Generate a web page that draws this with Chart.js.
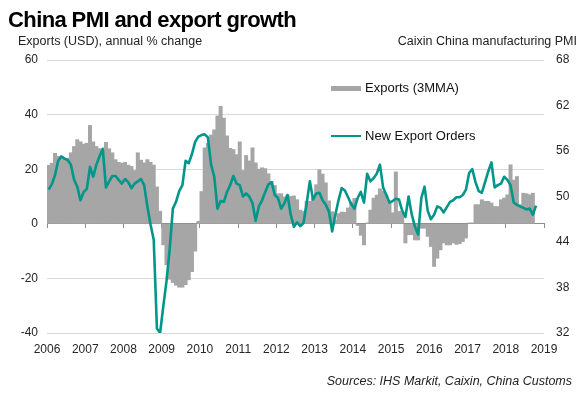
<!DOCTYPE html>
<html><head><meta charset="utf-8">
<script src="https://cdn.jsdelivr.net/npm/chart.js@4.4.1/dist/chart.umd.min.js"></script>
<style>
html,body{margin:0;padding:0;background:#fff;}
#wrap{position:relative;width:583px;height:393px;overflow:hidden;font-family:"Liberation Sans",Arial,sans-serif;color:#222;}
#c{position:absolute;left:0;top:0;}
.t{position:absolute;white-space:nowrap;line-height:1;}
.lg{position:absolute;white-space:nowrap;font-size:13px;line-height:1;color:#111;}
.sw{position:absolute;}
</style></head><body>
<div id="wrap">
<canvas id="c" width="583" height="393"></canvas>
<div class="t" style="left:8px;top:9px;font-size:22px;font-weight:bold;letter-spacing:-0.6px;color:#000">China PMI and export growth</div>
<div class="t" style="left:18px;top:35px;font-size:12.5px;">Exports (USD), annual % change</div>
<div class="t" style="right:6px;top:35px;font-size:12.5px;">Caixin China manufacturing PMI</div>
<div class="t" style="right:11px;top:375px;font-size:12.5px;font-style:italic;">Sources: IHS Markit, Caixin, China Customs</div>
<div id="legend"></div>
</div>
<script>
// ---- data (monthly, Jan 2006 .. Oct 2018) ----
const startYear = 2006;
const exportsLabel = 'Exports (3MMA)';
const pmiLabel = 'New Export Orders';

const exports3mma = [
  21.4, 22.2, 25.8, 24.7, 24.5, 23.8, 24.0, 26.0, 28.3, 30.8, 30.0, 29.2,   // 2006
  29.5, 36.0, 30.0, 28.3, 27.5, 26.5, 29.8, 27.5, 26.0, 23.5, 22.5, 22.2,   // 2007
  22.5, 21.5, 21.0, 19.5, 26.0, 23.3, 22.3, 23.5, 22.5, 21.5, 13.5, 4.6,    // 2008
  -7.7, -15.0, -20.3, -21.5, -22.5, -23.2, -23.2, -22.3, -20.5, -17.5, -10.0, 0.9, // 2009
  11.8, 27.8, 29.5, 32.5, 34.4, 39.5, 43.0, 38.7, 32.2, 27.6, 27.2, 25.3,   // 2010
  30.0, 19.5, 25.0, 23.0, 27.8, 22.3, 20.0, 20.5, 20.2, 18.3, 15.5, 14.0,   // 2011
  11.0, 11.0, 9.8, 10.6, 10.0, 10.2, 8.8, 5.0, 4.5, 8.2, 8.2, 9.4,          // 2012
  14.3, 19.8, 18.2, 15.0, 8.4, 4.4, 1.3, 3.7, 4.3, 4.2, 5.8, 7.8,           // 2013
  9.3, -0.6, -4.2, -7.7, 0.3, 5.0, 9.4, 10.5, 12.8, 11.9, 10.6, 8.4,        // 2014
  4.0, 19.0, 4.5, 4.0, -7.0, -4.0, -4.0, -5.9, -5.9, -1.6, -1.6, -4.6,      // 2015
  -8.3, -15.6, -12.6, -9.5, -7.0, -7.7, -7.7, -7.0, -7.5, -7.3, -6.5, -5.2, // 2016
  0.3, 0.3, 7.0, 7.0, 8.8, 8.2, 8.2, 7.6, 6.3, 6.3, 8.8, 9.4,               // 2017
  10.6, 21.6, 16.0, 17.3, 7.0, 11.2, 11.0, 10.6, 11.2, null                 // 2018
];

const pmiExportOrders = [
  50.9, 51.6, 52.8, 54.7, 55.3, 55.0, 54.8, 54.2, 52.2, 51.3, 49.5, 50.6,   // 2006
  51.0, 53.9, 52.6, 54.2, 55.3, 56.3, 51.2, 52.0, 52.7, 52.7, 52.2, 51.7,   // 2007
  52.3, 51.9, 51.1, 51.7, 52.0, 52.3, 51.5, 48.7, 46.3, 44.3, 32.6, 32.0,   // 2008
  35.5, 38.8, 43.0, 48.4, 49.3, 50.7, 51.5, 54.7, 54.4, 55.6, 57.2, 57.9,   // 2009
  58.1, 58.2, 57.8, 54.2, 52.6, 48.4, 49.4, 49.3, 50.6, 51.5, 52.7, 51.7,   // 2010
  51.5, 50.0, 50.4, 50.0, 49.1, 46.8, 48.7, 49.5, 50.6, 51.6, 51.9, 50.2,   // 2011
  49.8, 48.4, 49.1, 50.2, 47.6, 46.0, 46.6, 46.1, 46.5, 49.1, 52.0, 49.6,   // 2012
  50.4, 50.5, 49.5, 48.9, 48.0, 45.4, 47.6, 49.5, 51.1, 50.8, 49.9, 49.0,   // 2013
  48.4, 49.8, 50.6, 49.2, 53.0, 52.0, 52.4, 53.0, 54.2, 51.2, 50.2, 49.2,   // 2014
  49.4, 49.7, 49.6, 48.1, 47.3, 50.0, 47.6, 46.0, 45.0, 49.8, 51.3, 48.1,   // 2015
  47.0, 47.6, 48.7, 48.5, 47.9, 48.6, 49.3, 49.5, 49.9, 49.9, 50.2, 50.9,   // 2016
  53.1, 53.6, 51.9, 50.7, 50.5, 51.9, 53.3, 54.5, 51.2, 51.5, 51.7, 52.6,   // 2017
  52.2, 51.5, 49.2, 48.9, 48.7, 48.5, 48.3, 48.4, 47.6, 48.8                // 2018
];

const yearTicks = [2006,2007,2008,2009,2010,2011,2012,2013,2014,2015,2016,2017,2018,2019];
const leftTicks = [-40,-20,0,20,40,60];
const rightTicks = [32,38,44,50,56,62,68];

// ---- styles ----
const barColor = '#a6a6a6';
const lineColor = '#00968a';
const gridColor = '#d9d9d9';
const textColor = '#262626';
const tickFont = {family:'"Liberation Sans", Arial, sans-serif', size:12};

const monthX = i => startYear + (i + 0.5) / 12;
const barPts = exports3mma.map((v, i) => ({x: monthX(i), y: v}));
const linePts = pmiExportOrders.map((v, i) => ({x: monthX(i), y: v}));

const setTicks = arr => s => { s.ticks = arr.map(v => ({value: v})); };

const chart = new Chart(document.getElementById('c'), {
  type: 'bar',
  data: {
    datasets: [
      {type:'line', label: pmiLabel, data: linePts, yAxisID:'y1', borderColor: lineColor,
       borderWidth: 2.6, pointRadius: 0, tension: 0, order: 0, borderJoinStyle:'round'},
      {type:'bar', label: exportsLabel, data: barPts, yAxisID:'y', backgroundColor: barColor,
       borderWidth: 0, barPercentage: 1, categoryPercentage: 1, inflateAmount: 0.4, order: 1}
    ]
  },
  options: {
    responsive: false, animation: false, devicePixelRatio: 1,
    layout: {padding: {top: 60, left: 0, right: 0, bottom: 0}},
    plugins: {legend: {display: false}, tooltip: {enabled: false}},
    scales: {
      x: {type:'linear', min: 2006, max: 2019, offset: false, position:'bottom',
          afterBuildTicks: setTicks(yearTicks),
          afterFit: s => { s.height = 60; },
          grid: {display: false, offset: false}, border: {display: false},
          ticks: {font: tickFont, color: textColor, padding: 1, maxRotation: 0, autoSkip: false,
                  callback: v => String(v)}},
      x0: {type:'linear', axis:'x', min: 2006, max: 2019, offset: false, position: {y: 0},
          afterBuildTicks: setTicks(yearTicks),
          grid: {drawOnChartArea: false, drawTicks: true, tickLength: 4, tickColor: '#8c8c8c', offset: false},
          border: {display: true, color: '#8c8c8c', width: 1},
          ticks: {display: false}},
      y: {type:'linear', position:'left', min: -40, max: 60,
          afterBuildTicks: setTicks(leftTicks),
          afterFit: s => { s.width = 47; },
          grid: {color: gridColor, drawTicks: false, lineWidth: 1},
          border: {display: false},
          ticks: {font: tickFont, color: textColor, padding: 9}},
      y1: {type:'linear', position:'right', min: 32, max: 68,
          afterBuildTicks: setTicks(rightTicks),
          afterFit: s => { s.width = 39; },
          grid: {drawOnChartArea: false, drawTicks: false},
          border: {display: false},
          ticks: {font: tickFont, color: textColor, padding: 12}}
    }
  }
});

// ---- HTML legend built from the datasets ----
const legendPos = {}; legendPos[exportsLabel] = 88; legendPos[pmiLabel] = 136;
const lg = document.getElementById('legend');
[...chart.data.datasets].reverse().forEach(ds => {
  const cy = legendPos[ds.label];
  const sw = document.createElement('div');
  sw.className = 'sw';
  const h = ds.type === 'bar' ? 5 : 2.6;
  sw.style.cssText = `left:331px;top:${cy - h/2}px;width:30px;height:${h}px;background:${ds.type==='bar'?ds.backgroundColor:ds.borderColor};`;
  lg.appendChild(sw);
  const tx = document.createElement('div');
  tx.className = 'lg';
  tx.textContent = ds.label;
  tx.style.cssText += `left:365px;top:${cy - 7}px;`;
  lg.appendChild(tx);
});
</script>
</body></html>
